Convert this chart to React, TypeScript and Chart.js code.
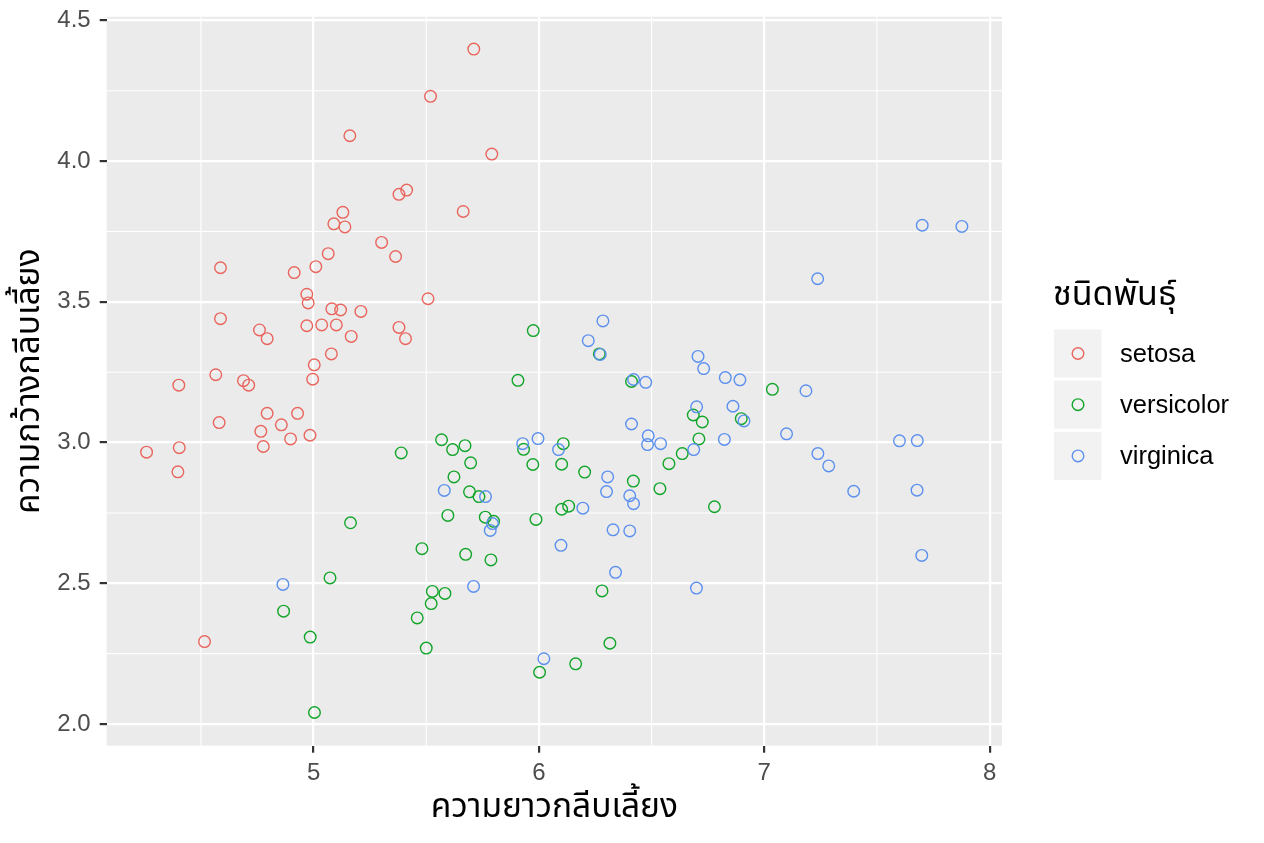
import React, { useEffect, useRef } from "react";
import { Chart, registerables } from "chart.js";

Chart.register(...registerables);

const speciesNames = ["setosa", "versicolor", "virginica"];
const speciesColors = ["#E9655D", "#12A52A", "#5C90EE"];

const setosaX = [
  5.711, 5.519, 5.161, 5.791, 5.413, 5.379, 5.664, 5.13, 5.09, 5.139, 5.302, 5.364, 5.065, 5.01, 4.914, 4.587,
  5.508, 4.97, 4.976, 5.081, 5.12, 5.21, 4.587, 4.97, 5.036, 5.101, 5.379, 4.76, 4.794, 5.167, 5.408, 5.079,
  5.003, 4.996, 4.566, 4.689, 4.712, 4.402, 4.794, 4.929, 4.581, 4.857, 4.766, 4.898, 4.984, 4.777, 4.404, 4.259,
  4.398, 4.516,
];
const setosaY = [
  4.398, 4.23, 4.09, 4.025, 3.897, 3.882, 3.821, 3.818, 3.777, 3.766, 3.711, 3.661, 3.671, 3.625, 3.604, 3.621,
  3.511, 3.527, 3.496, 3.475, 3.471, 3.466, 3.44, 3.415, 3.418, 3.418, 3.409, 3.4, 3.369, 3.377, 3.369, 3.315,
  3.276, 3.225, 3.241, 3.22, 3.204, 3.204, 3.104, 3.104, 3.071, 3.063, 3.04, 3.013, 3.026, 2.986, 2.982, 2.966,
  2.896, 2.293,
];

const versicolorX = [
  5.975, 5.907, 7.036, 6.411, 6.268, 6.685, 6.725, 6.898, 6.71, 6.636, 6.577, 6.419, 6.537, 6.779, 6.203, 6.101,
  6.108, 5.973, 5.932, 5.987, 6.101, 6.132, 6.28, 6.315, 6.163, 6.003, 5.568, 5.617, 5.672, 5.697, 5.623, 5.692,
  5.734, 5.596, 5.762, 5.799, 5.481, 5.675, 5.787, 5.527, 5.583, 5.522, 5.46, 5.5, 5.389, 5.164, 5.073, 4.867,
  4.985, 5.004,
];
const versicolorY = [
  3.398, 3.221, 3.189, 3.217, 3.315, 3.098, 3.073, 3.085, 3.013, 2.961, 2.925, 2.863, 2.836, 2.772, 2.895, 2.923,
  2.996, 2.922, 2.976, 2.727, 2.763, 2.774, 2.473, 2.287, 2.214, 2.184, 3.01, 2.975, 2.989, 2.928, 2.878, 2.825,
  2.808, 2.741, 2.735, 2.72, 2.623, 2.603, 2.583, 2.471, 2.464, 2.428, 2.377, 2.27, 2.963, 2.715, 2.519, 2.401,
  2.309, 2.041,
];

const virginicaX = [
  4.864, 5.58, 5.71, 6.284, 6.219, 6.272, 6.42, 6.474, 6.706, 6.731, 6.827, 6.892, 6.7, 6.861, 6.91, 6.411,
  6.485, 6.482, 6.54, 6.687, 6.823, 5.996, 5.928, 6.087, 6.305, 6.3, 6.403, 6.42, 6.195, 6.329, 6.403, 6.098,
  6.34, 6.699, 6.022, 5.763, 5.784, 5.794, 7.701, 7.877, 7.237, 7.185, 7.099, 7.238, 7.286, 7.397, 7.6, 7.679,
  7.678, 7.699,
];
const virginicaY = [
  2.496, 2.83, 2.489, 3.432, 3.362, 3.313, 3.224, 3.214, 3.306, 3.263, 3.231, 3.223, 3.127, 3.129, 3.077, 3.066,
  3.024, 2.993, 2.996, 2.975, 3.011, 3.014, 2.996, 2.975, 2.878, 2.826, 2.811, 2.783, 2.767, 2.69, 2.686, 2.635,
  2.539, 2.483, 2.232, 2.808, 2.688, 2.712, 3.772, 3.768, 3.582, 3.184, 3.031, 2.961, 2.917, 2.827, 3.006, 3.007,
  2.831, 2.599,
];

const xTicks = [5, 6, 7, 8];
const yTicks = [2.0, 2.5, 3.0, 3.5, 4.0, 4.5];
const xMinor = [4.5, 5.5, 6.5, 7.5];
const yMinor = [2.25, 2.75, 3.25, 3.75, 4.25];
const xRange = [4.082, 8.055];
const yRange = [1.923, 4.513];

const xTitle = "ความยาวกลีบเลี้ยง";
const yTitle = "ความกว้างกลีบเลี้ยง";
const legendTitle = "ชนิดพันธุ์";

const FONT = '"Liberation Sans", "Noto Sans", Arial, sans-serif';
const THAI_FONT = '"Noto Sans Thai", "Noto Sans", "Liberation Sans", sans-serif';

const toPoints = (xs: number[], ys: number[]) => xs.map((x, i) => ({ x, y: ys[i] }));

const panelPlugin = {
  id: "panelBg",
  beforeDraw(chart: any) {
    const { ctx, chartArea } = chart;
    const xs = chart.scales.x;
    const ys = chart.scales.y;
    ctx.save();
    ctx.fillStyle = "#EBEBEB";
    ctx.fillRect(chartArea.left, chartArea.top, chartArea.right - chartArea.left, chartArea.bottom - chartArea.top);
    ctx.strokeStyle = "#FFFFFF";
    ctx.lineWidth = 1.1;
    xMinor.forEach((v) => {
      const px = xs.getPixelForValue(v);
      ctx.beginPath();
      ctx.moveTo(px, chartArea.top);
      ctx.lineTo(px, chartArea.bottom);
      ctx.stroke();
    });
    yMinor.forEach((v) => {
      const py = ys.getPixelForValue(v);
      ctx.beginPath();
      ctx.moveTo(chartArea.left, py);
      ctx.lineTo(chartArea.right, py);
      ctx.stroke();
    });
    ctx.restore();
  },
};

const legendPlugin = {
  id: "ggLegend",
  afterDraw(chart: any) {
    const { ctx, chartArea } = chart;
    const left = chartArea.right + 51;
    ctx.save();
    ctx.fillStyle = "#000000";
    ctx.textAlign = "left";
    ctx.textBaseline = "middle";
    ctx.font = `34px ${THAI_FONT}`;
    ctx.fillText(legendTitle, left, 298);
    const keyTop = 329.5;
    const keyH = 48;
    const keyGap = 3.2;
    speciesNames.forEach((name, i) => {
      const top = keyTop + i * (keyH + keyGap);
      ctx.fillStyle = "#F2F2F2";
      ctx.fillRect(left + 1, top, 47.5, keyH);
      ctx.beginPath();
      ctx.arc(left + 25, top + keyH / 2, 5.8, 0, Math.PI * 2);
      ctx.strokeStyle = speciesColors[i];
      ctx.lineWidth = 1.4;
      ctx.stroke();
      ctx.fillStyle = "#000000";
      ctx.font = `25.5px ${FONT}`;
      ctx.fillText(name, left + 67, top + keyH / 2 + 1);
    });
    ctx.restore();
  },
};

export default function App() {
  const canvasRef = useRef<HTMLCanvasElement | null>(null);

  useEffect(() => {
    if (!canvasRef.current) return;
    const datasets = [
      { label: speciesNames[0], data: toPoints(setosaX, setosaY), order: 3 },
      { label: speciesNames[1], data: toPoints(versicolorX, versicolorY), order: 2 },
      { label: speciesNames[2], data: toPoints(virginicaX, virginicaY), order: 1 },
    ].map((d, i) => ({
      ...d,
      borderColor: speciesColors[i],
      backgroundColor: "rgba(0,0,0,0)",
      pointRadius: 5.8,
      pointHoverRadius: 5.8,
      pointBorderWidth: 1.4,
      pointStyle: "circle",
    }));

    const chart = new Chart(canvasRef.current, {
      type: "scatter",
      data: { datasets },
      options: {
        animation: false,
        responsive: false,
        devicePixelRatio: 1,
        layout: { padding: { left: 0, right: 262, top: 16.7, bottom: 0 } },
        plugins: { legend: { display: false }, tooltip: { enabled: false } },
        scales: {
          x: {
            type: "linear",
            min: xRange[0],
            max: xRange[1],
            afterBuildTicks: (s: any) => {
              s.ticks = xTicks.map((v) => ({ value: v }));
            },
            afterFit: (s: any) => {
              s.height = 97.3;
              s.paddingLeft = 0;
              s.paddingRight = 0;
            },
            border: { display: false },
            grid: {
              color: "#FFFFFF",
              lineWidth: 2.2,
              tickColor: "#333333",
              tickWidth: 2.2,
              tickLength: 7,
            },
            ticks: {
              autoSkip: false,
              maxRotation: 0,
              padding: 6,
              color: "#4D4D4D",
              font: { family: FONT, size: 24 },
              callback: (v: any) => String(v),
            },
            title: {
              display: true,
              text: xTitle,
              color: "#000000",
              font: { family: THAI_FONT, size: 33.5, lineHeight: 1.2 },
              padding: { top: 0, bottom: 13 },
            },
          },
          y: {
            type: "linear",
            min: yRange[0],
            max: yRange[1],
            afterBuildTicks: (s: any) => {
              s.ticks = yTicks.map((v) => ({ value: v }));
            },
            afterFit: (s: any) => {
              s.width = 106.7;
              s.paddingTop = 0;
              s.paddingBottom = 0;
            },
            border: { display: false },
            grid: {
              color: "#FFFFFF",
              lineWidth: 2.2,
              tickColor: "#333333",
              tickWidth: 2.2,
              tickLength: 7,
            },
            ticks: {
              autoSkip: false,
              padding: 9,
              color: "#4D4D4D",
              font: { family: FONT, size: 24 },
              callback: (v: any) => Number(v).toFixed(1),
            },
            title: {
              display: true,
              text: yTitle,
              color: "#000000",
              font: { family: THAI_FONT, size: 33.5, lineHeight: 1.2 },
              padding: { top: 12, bottom: 0 },
            },
          },
        },
      },
      plugins: [panelPlugin, legendPlugin],
    } as any);

    return () => chart.destroy();
  }, []);

  return (
    <div style={{ position: "fixed", left: 0, top: 0, width: 1264, height: 843, background: "#FFFFFF" }}>
      <canvas ref={canvasRef} width={1264} height={843} style={{ width: 1264, height: 843, display: "block" }} />
    </div>
  );
}
